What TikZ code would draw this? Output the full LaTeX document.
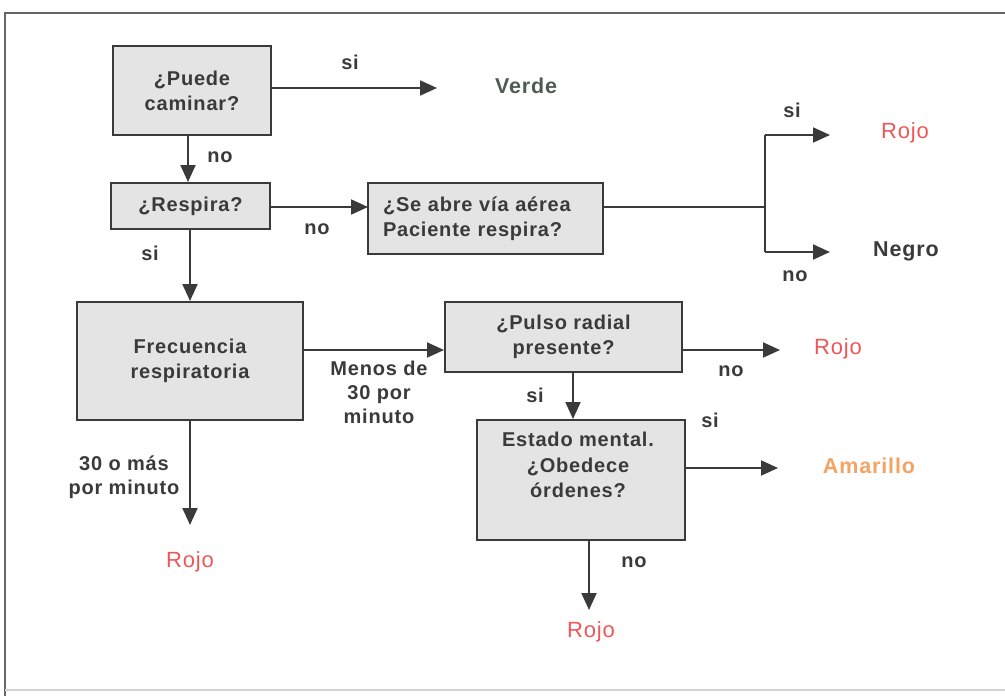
\documentclass[tikz,border=0pt]{standalone}
\usepackage{fontspec}
\setmainfont{Liberation Sans}
\newfontfamily\widesans[LetterSpace=4]{Liberation Sans}
\usetikzlibrary{arrows.meta}
\definecolor{ink}{HTML}{3A3A3A}
\definecolor{boxfill}{HTML}{E4E4E4}
\definecolor{rojo}{HTML}{EE5757}
\definecolor{verde}{HTML}{4E5D54}
\definecolor{amarillo}{HTML}{F5A363}
\tikzset{
  box/.style={draw=ink, line width=2pt, fill=boxfill, inner sep=0pt, align=center,
    text=ink, font=\widesans\bfseries\fontsize{20}{25}\selectfont},
  txt/.style={inner sep=0pt, align=center, text=ink, font=\widesans\bfseries\fontsize{20}{24}\selectfont},
  big/.style={txt, font=\widesans\bfseries\fontsize{21.5}{24}\selectfont},
  res/.style={inner sep=0pt, text=rojo, font=\widesans\fontsize{22}{24}\selectfont},
  conn/.style={draw=ink, line width=2pt},
  arr/.style={conn, -{Triangle[length=17pt,width=15pt]}},
}
\begin{document}
\begin{tikzpicture}[x=1pt,y=-1pt]
\useasboundingbox (0,0) rectangle (1005,696);
% outer frame
\draw[line width=1.6pt, gray!80!black] (5,696) -- (5,13) -- (1005,13);
\draw[line width=1.2pt, gray!35] (5,690) -- (1005,690);

% decision boxes
\node[box, minimum width=158pt, minimum height=89pt] (puede) at (192,90.5) {¿Puede\\caminar?};
\node[box, minimum width=159pt, minimum height=46pt] (respira) at (190.5,206) {¿Respira?};
\node[box, minimum width=235pt, minimum height=71pt, text width=205pt, align=left] (abre) at (485.5,218.5) {¿Se abre vía aérea\\Paciente respira?};
\node[box, minimum width=226pt, minimum height=118pt] (frec) at (190,361) {Frecuencia\\respiratoria};
\node[box, minimum width=237pt, minimum height=70pt] (pulso) at (563.5,337) {¿Pulso radial\\presente?};
\node[box, minimum width=208pt, minimum height=120pt] (estado) at (581,480) {};
\node[txt, font=\widesans\bfseries\fontsize{20}{25.5}\selectfont] (estadotxt) at (578,465) {Estado mental.\\¿Obedece\\órdenes?};

% outcomes
\node[big, text=verde] (verde) at (526,86) {Verde};
\node[res] (rojoA) at (905,133) {Rojo};
\node[big] (negro) at (906,251) {Negro};
\node[res] (rojoB) at (838,349) {Rojo};
\node[big, text=amarillo] (amarillo) at (869,466) {Amarillo};
\node[res] (rojoC) at (190,562) {Rojo};
\node[res] (rojoD) at (591,632) {Rojo};

% arrow end points
\coordinate (eVerde) at (437,88);
\coordinate (eAbre) at (368,207);
\coordinate (split) at (765,207);
\coordinate (splitT) at (765,135);
\coordinate (splitB) at (765,252);
\coordinate (eRojoA) at (830,135);
\coordinate (eNegro) at (830,252);
\coordinate (eRojoB) at (780,350);
\coordinate (eAmarillo) at (778,468);
\coordinate (eRojoC) at (190,525);
\coordinate (eRojoD) at (589,610);

% connectors
\draw[arr] (puede.east |- eVerde) -- (eVerde);
\draw[arr] (puede.south -| 188,0) -- (respira.north -| 188,0);
\draw[arr] (respira.east |- eAbre) -- (eAbre);
\draw[arr] (respira.south -| 190,0) -- (frec.north -| 190,0);
\draw[conn] (abre.east |- split) -- (split);
\draw[conn] (splitT) -- (splitB);
\draw[arr] (splitT) -- (eRojoA);
\draw[arr] (splitB) -- (eNegro);
\draw[arr] (frec.east |- 0,350) -- (pulso.west |- 0,350);
\draw[arr] (frec.south) -- (eRojoC);
\draw[arr] (pulso.east |- eRojoB) -- (eRojoB);
\draw[arr] (pulso.south -| 573,0) -- (estado.north -| 573,0);
\draw[arr] (estado.east |- eAmarillo) -- (eAmarillo);
\draw[arr] (estado.south -| eRojoD) -- (eRojoD);

% connector labels
\node[txt] (l1) at (350,62) {si};
\node[txt] (l2) at (220,157) {no};
\node[txt] (l3) at (317,229) {no};
\node[txt] (l4) at (150,253) {si};
\node[txt] (l5) at (792,110) {si};
\node[txt] (l6) at (795,276) {no};
\node[txt] (l7) at (379,392) {Menos de\\30 por\\minuto};
\node[txt] (l8) at (124,477) {30 o más\\por minuto};
\node[txt] (l9) at (731,371) {no};
\node[txt] (l10) at (535,395) {si};
\node[txt] (l11) at (710,420) {si};
\node[txt] (l12) at (634,562) {no};
\end{tikzpicture}
\end{document}
